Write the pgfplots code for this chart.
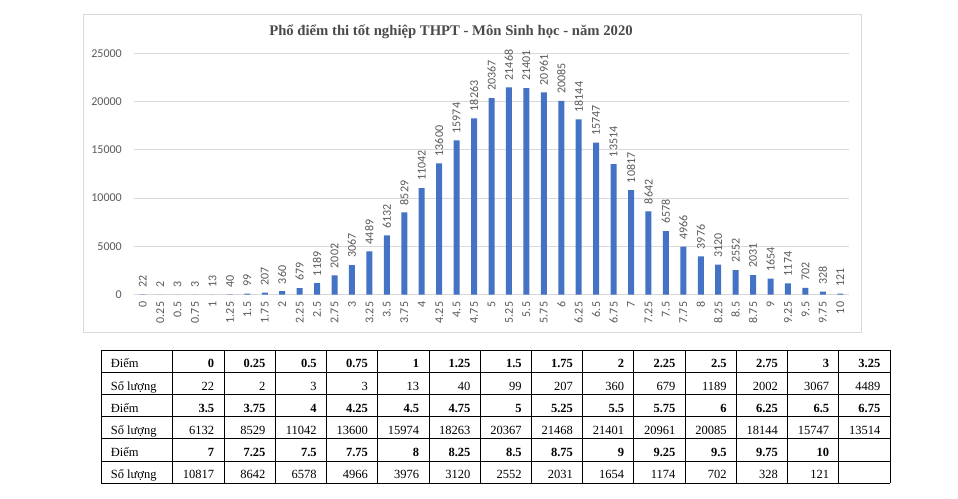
\documentclass[border=0pt]{standalone}
\usepackage{pgfplots}
\usepackage{pgfplotstable}
\pgfplotsset{compat=1.18}
\usepackage{fontspec}
\setmainfont{Liberation Serif}
\newfontfamily\calibri{Carlito}
\definecolor{barblue}{HTML}{4472C4}
\definecolor{txtgrey}{HTML}{595959}
\definecolor{titlegrey}{HTML}{4A4A4A}
\definecolor{gridgrey}{HTML}{D9D9D9}

% i = position, d = diem, n = so luong
\pgfplotstableread{
i d n
0 0 22
1 0.25 2
2 0.5 3
3 0.75 3
4 1 13
5 1.25 40
6 1.5 99
7 1.75 207
8 2 360
9 2.25 679
10 2.5 1189
11 2.75 2002
12 3 3067
13 3.25 4489
14 3.5 6132
15 3.75 8529
16 4 11042
17 4.25 13600
18 4.5 15974
19 4.75 18263
20 5 20367
21 5.25 21468
22 5.5 21401
23 5.75 20961
24 6 20085
25 6.25 18144
26 6.5 15747
27 6.75 13514
28 7 10817
29 7.25 8642
30 7.5 6578
31 7.75 4966
32 8 3976
33 8.25 3120
34 8.5 2552
35 8.75 2031
36 9 1654
37 9.25 1174
38 9.5 702
39 9.75 328
40 10 121
}\data

\begin{document}
\begin{tikzpicture}[x=1pt,y=1pt]
\path[use as bounding box] (0,0) rectangle (958,498);
% chart frame
\draw[gridgrey, line width=0.8pt] (83,484) rectangle (861,166);
\node[font=\bfseries\fontsize{14.7}{16}\selectfont, text=titlegrey] at (451,466)
  {Phổ điểm thi tốt nghiệp THPT - Môn Sinh học - năm 2020};

\begin{axis}[
  at={(134pt,203.3pt)}, anchor=south west, scale only axis,
  width=715pt, height=241.4pt,
  xmin=-0.5, xmax=40.5, ymin=0, ymax=25000,
  clip=false,
  axis line style={draw=none},
  major tick length=0pt,
  ymajorgrids, grid style={gridgrey, line width=0.8pt},
  ytick={0,5000,...,25000},
  xtick={0,...,40},
  xticklabels from table={\data}{d},
  scaled y ticks=false,
  /pgf/number format/assume math mode=true,
  /pgf/number format/1000 sep={},
  tick label style={font=\calibri\fontsize{12}{14}\selectfont, text=txtgrey},
  yticklabel style={anchor=east, inner sep=0pt, xshift=-12pt},
  xticklabel style={yshift=-7pt, rotate=90, anchor=east, inner sep=0pt},
  ybar, bar width=6pt,
  nodes near coords={\pgfmathprintnumber[fixed,precision=0,1000 sep={}]{\pgfplotspointmeta}},
  every node near coord/.append style={rotate=90, anchor=west, inner xsep=7pt, inner ysep=0pt,
    font=\calibri\fontsize{12}{14}\selectfont, text=txtgrey},
]
\addplot[fill=barblue, draw=none] table[x=i, y=n] {\data};
\end{axis}

% table below the chart
\begin{scope}[line width=0.8pt]
\foreach \k in {0,...,6} {
  \pgfmathsetmacro\yy{498-(350+22.2*\k)}
  \draw (101,\yy) -- (890.1,\yy);
}
\draw (101,148) -- (101,14.8);
\foreach \j in {0,...,14} {
  \pgfmathsetmacro\xx{172.7+51.24*\j}
  \draw (\xx,148) -- (\xx,14.8);
}
\end{scope}
\foreach \p in {0,1,2} {
  \pgfmathsetmacro\ya{498-(350+44.4*\p+22.2-4.3)}
  \pgfmathsetmacro\yb{498-(350+44.4*\p+44.4-4.3)}
  \node[anchor=base west, inner sep=0pt, font=\fontsize{12.5}{14}\selectfont] at (110.7,\ya) {Điểm};
  \node[anchor=base west, inner sep=0pt, font=\fontsize{12.5}{14}\selectfont] at (110.7,\yb) {Số lượng};
  \foreach \j in {0,...,13} {
    \pgfmathtruncatemacro\idx{14*\p+\j}
    \ifnum\idx<41
      \pgfplotstablegetelem{\idx}{d}\of\data
      \let\dval\pgfplotsretval
      \pgfplotstablegetelem{\idx}{n}\of\data
      \let\nval\pgfplotsretval
      \pgfmathsetmacro\xr{172.7+51.24*(\j+1)-9.5}
      \node[anchor=base east, inner sep=0pt, font=\bfseries\fontsize{12.5}{14}\selectfont] at (\xr,\ya) {\dval};
      \node[anchor=base east, inner sep=0pt, font=\fontsize{12.5}{14}\selectfont] at (\xr,\yb) {\nval};
    \fi
  }
}
\end{tikzpicture}
\end{document}
